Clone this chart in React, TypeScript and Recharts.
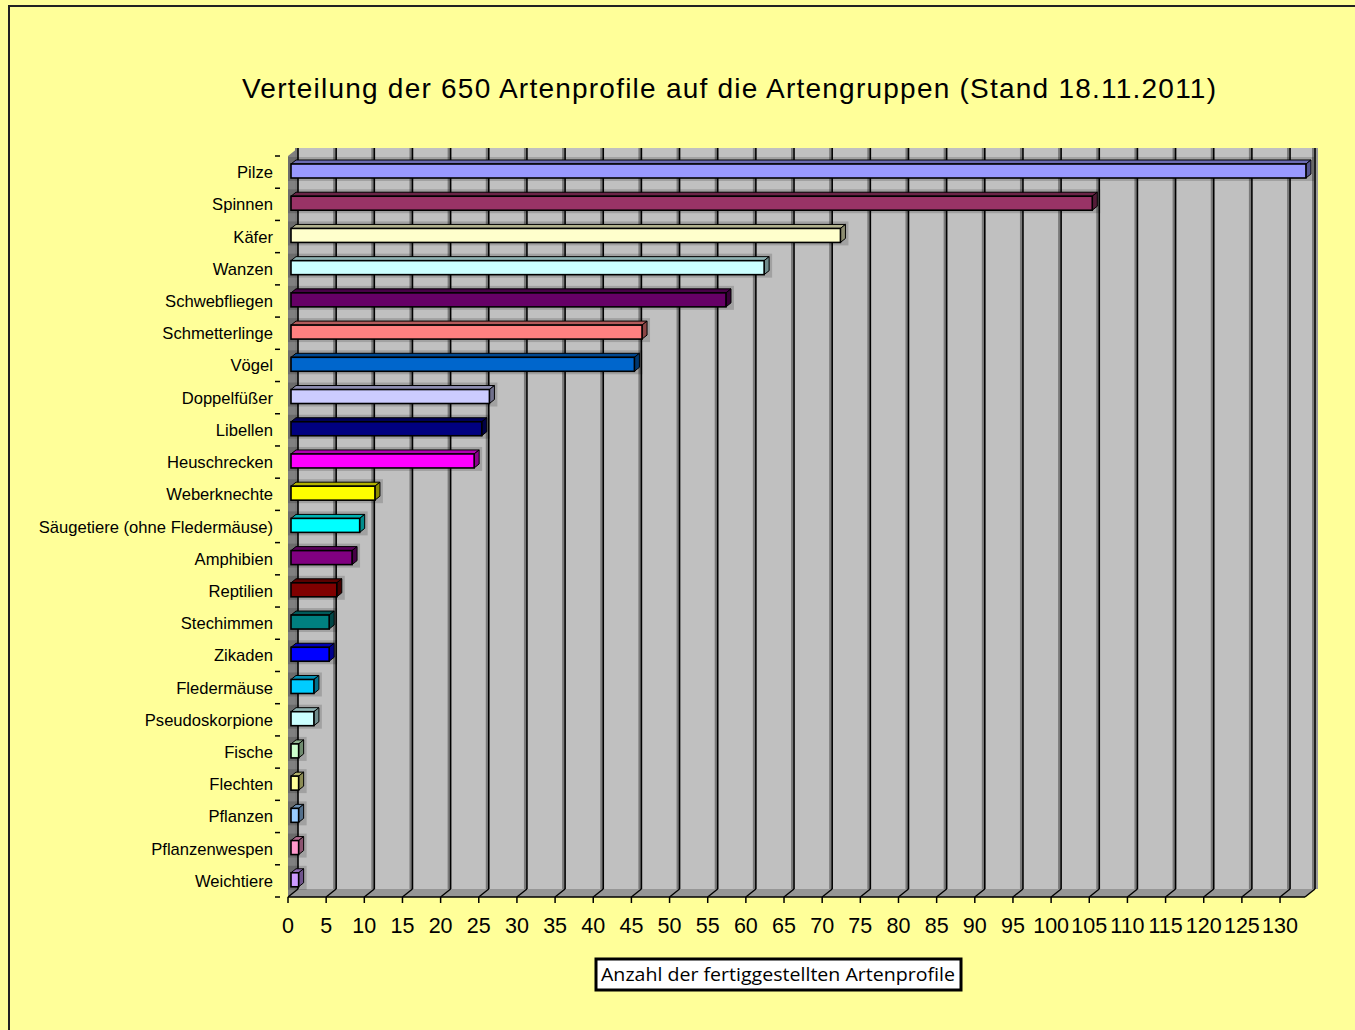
import React from 'react';
import { BarChart, Bar, XAxis, YAxis, CartesianGrid, Cell } from 'recharts';

// Artengruppen, Anzahl fertiggestellter Artenprofile (Summe 650)
const CATEGORIES = [
    'Pilze', 'Spinnen', 'Käfer', 'Wanzen', 'Schwebfliegen', 'Schmetterlinge', 'Vögel',
    'Doppelfüßer', 'Libellen', 'Heuschrecken', 'Weberknechte', 'Säugetiere (ohne Fledermäuse)',
    'Amphibien', 'Reptilien', 'Stechimmen', 'Zikaden', 'Fledermäuse', 'Pseudoskorpione',
    'Fische', 'Flechten', 'Pflanzen', 'Pflanzenwespen', 'Weichtiere',
];
const COUNTS = [133, 105, 72, 62, 57, 46, 45, 26, 25, 24, 11, 9, 8, 6, 5, 5, 3, 3, 1, 1, 1, 1, 1];
const COLORS = [
    '#9999FF', '#993366', '#FFFFCC', '#CCFFFF', '#660066', '#FF8080', '#0066CC',
    '#CCCCFF', '#000080', '#FF00FF', '#FFFF00', '#00FFFF', '#800080', '#800000',
    '#008080', '#0000FF', '#00CCFF', '#CCFFFF', '#CCFFCC', '#FFFF99', '#99CCFF',
    '#FF99CC', '#CC99FF',
];
const X_TICKS = [0, 5, 10, 15, 20, 25, 30, 35, 40, 45, 50, 55, 60, 65, 70, 75, 80, 85, 90, 95, 100, 105, 110, 115, 120, 125, 130];
const X_MAX = 133.27;

const TITLE = 'Verteilung der 650 Artenprofile auf die Artengruppen (Stand 18.11.2011)';
const AXIS_TITLE = 'Anzahl der fertiggestellten Artenprofile';

// layout
const W = 1355;
const H = 1030;
const PLOT_LEFT = 288;
const PLOT_RIGHT = 1305;
const PLOT_TOP = 156;
const PLOT_BOTTOM = 897;
const DX = 10; // wall depth
const DY = 8;
const XAXIS_H = 40;
const BAND = (PLOT_BOTTOM - PLOT_TOP) / CATEGORIES.length;
const FONT = '"Liberation Sans", Arial, sans-serif';

const chartData = CATEGORIES.map((name, i) => ({ name, value: COUNTS[i] }));

const shade = (hex: string, f: number) => {
    const n = parseInt(hex.slice(1), 16);
    const r = Math.round(((n >> 16) & 255) * f);
    const g = Math.round(((n >> 8) & 255) * f);
    const b = Math.round((n & 255) * f);
    return `rgb(${r},${g},${b})`;
};

const Bar3D = (props: any) => {
    const { x, y, width, height, fill } = props;
    if (width == null || width <= 0) return null;
    const fx = x + 3;
    const fy = y - 1;
    const dw = 5;
    const dh = 4;
    const top = `${fx},${fy} ${fx + dw},${fy - dh} ${fx + width + dw},${fy - dh} ${fx + width},${fy}`;
    const side = `${fx + width},${fy} ${fx + width + dw},${fy - dh} ${fx + width + dw},${fy + height - dh} ${fx + width},${fy + height}`;
    return (
        <g>
            <rect x={fx - 3} y={fy - dh - 3} width={width + dw + 6} height={height + dh + 6} fill="#000" opacity={0.16} />
            <polygon points={top} fill={shade(fill, 0.7)} stroke="#000" strokeWidth={1} strokeLinejoin="round" />
            <polygon points={side} fill={shade(fill, 0.55)} stroke="#000" strokeWidth={1} strokeLinejoin="round" />
            <rect x={fx} y={fy} width={width} height={height} fill={fill} stroke="#000" strokeWidth={1.6} />
        </g>
    );
};

const CategoryTick = (props: any) => {
    const { x, y, payload, index } = props;
    const topY = y - BAND / 2;
    return (
        <g>
            <text x={273} y={y + 6} textAnchor="end" fontSize={16.6} fontFamily={FONT} fill="#000">
                {payload.value}
            </text>
            <line x1={x - 5} y1={topY} x2={x} y2={topY} stroke="#000" strokeWidth={1.5} />
            {index === CATEGORIES.length - 1 && (
                <line x1={x - 5} y1={y + BAND / 2} x2={x} y2={y + BAND / 2} stroke="#000" strokeWidth={1.5} />
            )}
        </g>
    );
};

// back-wall gridline plus its continuation across the floor
const GridLine3D = (props: any) => {
    const { x1, y1, y2 } = props;
    const bx = x1 + DX;
    return (
        <g key={props.key}>
            <rect x={bx - 3} y={y1 - DY} width={2.5} height={y2 - y1} fill="#7a7a7a" />
            <line x1={bx} y1={y1 - DY} x2={bx} y2={y2 - DY} stroke="#000" strokeWidth={1.6} />
            <line x1={x1} y1={y2} x2={bx} y2={y2 - DY} stroke="#000" strokeWidth={1.4} />
        </g>
    );
};

export default function App() {
    return (
        <div style={{ position: 'relative', width: W, height: H, overflow: 'hidden', background: '#FFFF99' }}>
            <style>{'body{margin:0}'}</style>
            <div
                style={{
                    position: 'absolute', left: 8, top: 5, width: W, height: H,
                    borderLeft: '2px solid #222', borderTop: '2px solid #222', boxSizing: 'border-box',
                }}
            />

            {/* back wall */}
            <div style={{ position: 'absolute', left: 0, top: 0 }}>
                <BarChart
                    width={W}
                    height={H}
                    data={chartData}
                    layout="vertical"
                    margin={{ top: PLOT_TOP - DY, right: W - PLOT_RIGHT - DX, bottom: H - PLOT_BOTTOM + DY, left: PLOT_LEFT + DX }}
                >
                    <CartesianGrid fill="#C0C0C0" horizontal={false} vertical={false} />
                    <XAxis type="number" domain={[0, X_MAX]} ticks={X_TICKS} height={0} tick={false} axisLine={false} tickLine={false} />
                    <YAxis type="category" dataKey="name" width={0} tick={false} axisLine={false} tickLine={false} />
                </BarChart>
            </div>

            {/* left wall, floor, titles */}
            <svg width={W} height={H} style={{ position: 'absolute', left: 0, top: 0 }}>
                <rect x={PLOT_RIGHT + DX} y={PLOT_TOP - DY} width={3} height={PLOT_BOTTOM - PLOT_TOP} fill="#9a9a9a" />
                <polygon
                    points={`${PLOT_LEFT},${PLOT_BOTTOM} ${PLOT_LEFT},${PLOT_TOP} ${PLOT_LEFT + DX},${PLOT_TOP - DY} ${PLOT_LEFT + DX},${PLOT_BOTTOM - DY}`}
                    fill="#808080"
                />
                <polygon
                    points={`${PLOT_LEFT},${PLOT_BOTTOM} ${PLOT_RIGHT},${PLOT_BOTTOM} ${PLOT_RIGHT + DX},${PLOT_BOTTOM - DY} ${PLOT_LEFT + DX},${PLOT_BOTTOM - DY}`}
                    fill="#969696"
                />
                <text x={242} y={98} fontSize={28} fontFamily={FONT} fill="#000" textLength={974} lengthAdjust="spacing">
                    {TITLE}
                </text>
                <rect x={596} y={959} width={365} height={31} fill="#fff" stroke="#000" strokeWidth={3} />
                <text x={601} y={981} fontSize={18} fontFamily={'"Open Sans", sans-serif'} fill="#000" textLength={354} lengthAdjust="spacingAndGlyphs">
                    {AXIS_TITLE}
                </text>
            </svg>

            {/* gridlines, bars and axes */}
            <div style={{ position: 'absolute', left: 0, top: 0 }}>
                <BarChart
                    width={W}
                    height={H}
                    data={chartData}
                    layout="vertical"
                    barSize={14}
                    margin={{ top: PLOT_TOP, right: W - PLOT_RIGHT, bottom: H - PLOT_BOTTOM - XAXIS_H, left: 0 }}
                >
                    <CartesianGrid horizontal={false} vertical={GridLine3D} />
                    <XAxis
                        type="number"
                        domain={[0, X_MAX]}
                        ticks={X_TICKS}
                        interval={0}
                        height={XAXIS_H}
                        tickSize={6}
                        tickMargin={15}
                        axisLine={{ stroke: '#000', strokeWidth: 1.5 }}
                        tickLine={{ stroke: '#000', strokeWidth: 1.5 }}
                        tick={{ fontSize: 21.5, fill: '#000', fontFamily: FONT }}
                    />
                    <YAxis
                        type="category"
                        dataKey="name"
                        width={PLOT_LEFT}
                        interval={0}
                        axisLine={false}
                        tickLine={false}
                        tick={<CategoryTick />}
                    />
                    <Bar dataKey="value" shape={<Bar3D />} isAnimationActive={false}>
                        {chartData.map((d, i) => (
                            <Cell key={d.name} fill={COLORS[i]} />
                        ))}
                    </Bar>
                </BarChart>
            </div>
        </div>
    );
}
